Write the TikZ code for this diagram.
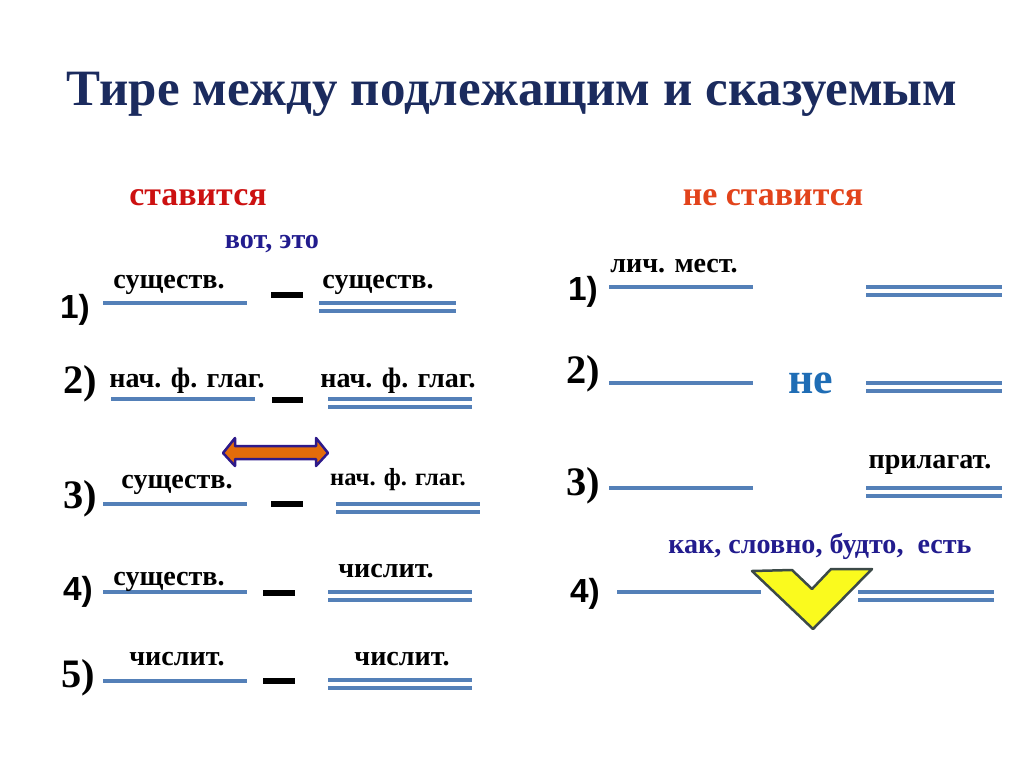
\documentclass[tikz,border=0pt]{standalone}
\usepackage{fontspec}
\setmainfont{Liberation Serif}
\setsansfont{Liberation Sans}
\usepackage{xcolor}
\definecolor{titleBlue} {HTML}{1B2B5E}
\definecolor{stavRed}   {HTML}{CC1111}
\definecolor{neRed}     {HTML}{E2431B}
\definecolor{wordNavy}  {HTML}{221C8E}
\definecolor{lineBlue}  {HTML}{5480B8}
\definecolor{neBlue}    {HTML}{1F6DB5}
\definecolor{arrOrange} {HTML}{E36C0A}
\definecolor{arrEdge}   {HTML}{2E1A8A}
\definecolor{chevYellow}{HTML}{FAFA1E}
\definecolor{chevEdge}  {HTML}{3C4A48}
\usetikzlibrary{arrows.meta, positioning, calc}
\tikzset{
    subj/.style={draw=lineBlue, line width=0.09cm},
    pred/.style={draw=lineBlue, line width=0.09cm, double=white,
                 double distance=0.07cm},
    tire/.style={draw=black, line width=0.12cm},
    lbl/.style={font=\bfseries\fontsize{16}{18}\selectfont, inner sep=0pt,
                anchor=base},
    smlbl/.style={lbl, font=\bfseries\fontsize{14}{16}\selectfont},
    numsf/.style={font=\sffamily\bfseries\fontsize{19}{21}\selectfont,
                  inner sep=0pt, anchor=base},
    numrm/.style={font=\bfseries\fontsize{23}{25}\selectfont,
                  inner sep=0pt, anchor=base},
}

\begin{document}
\begin{tikzpicture}[
    x=0.02cm, y=-0.02cm,
    head/.style={font=\bfseries\fontsize{19.3}{22}\selectfont, inner sep=0pt,
                 anchor=base},
    conj/.style={lbl, text=wordNavy, font=\bfseries\fontsize{16}{18}\selectfont},
]
\useasboundingbox (0,0) rectangle (1024,767);

% --- title ---
\node[font=\bfseries\fontsize{29}{32}\selectfont, text=titleBlue,
      inner sep=0pt, anchor=base] (title) at (512,106)
    {Тире между подлежащим и сказуемым};

% --- LEFT: ставится ---
\node[head, text=stavRed] (put) at (198,205) {ставится};
\node[conj] (vot) at (272,248) {вот, это};

% 1)
\node[numsf] (l1) at (75,318) {1)};
\draw[subj] (103,303) -- (247,303);
\node[lbl] (l1s) at (169,288) {существ.};
\draw[tire] (271,295) -- (303,295);
\draw[pred] (319,307) -- (456,307);
\node[lbl] (l1p) at (378,288) {существ.};

% 2)
\node[numrm] (l2) at (80,393) {2)};
\draw[subj] (111,399) -- (255,399);
\node[lbl] (l2s) at (187,387) {нач. ф. глаг.};
\draw[tire] (272,400) -- (303,400);
\draw[pred] (328,403) -- (472,403);
\node[lbl] (l2p) at (398,387) {нач. ф. глаг.};

% double arrow
\filldraw[fill=arrOrange, draw=arrEdge, line width=0.05cm, line join=round]
    (223,453) -- (235,438) -- (235,446) -- (316,446) -- (316,438)
    -- (328,453) -- (316,466) -- (316,459) -- (235,459) -- (235,466) -- cycle;

% 3)
\node[numrm] (l3) at (80,508) {3)};
\draw[subj] (103,504) -- (247,504);
\node[lbl] (l3s) at (177,488) {существ.};
\draw[tire] (271,504) -- (303,504);
\draw[pred] (336,508) -- (480,508);
\node[smlbl] (l3p) at (398,485) {нач. ф. глаг.};

% 4)
\node[numsf] (l4) at (78,600) {4)};
\draw[subj] (103,592) -- (247,592);
\node[lbl] (l4s) at (169,585) {существ.};
\draw[tire] (263,593) -- (295,593);
\draw[pred] (328,596) -- (472,596);
\node[lbl] (l4p) at (386,577) {числит.};

% 5)
\node[numrm] (l5) at (78,687) {5)};
\draw[subj] (103,681) -- (247,681);
\node[lbl] (l5s) at (177,665) {числит.};
\draw[tire] (263,681) -- (295,681);
\draw[pred] (328,684) -- (472,684);
\node[lbl] (l5p) at (402,665) {числит.};

% --- RIGHT: не ставится ---
\node[head, text=neRed] (noput) at (773,205) {не ставится};

% 1)
\node[numsf] (r1) at (583,300) {1)};
\draw[subj] (609,287) -- (753,287);
\node[lbl] (r1s) at (674,272) {лич. мест.};
\draw[pred] (866,291) -- (1002,291);

% 2)
\node[numrm] (r2) at (583,383) {2)};
\draw[subj] (609,383) -- (753,383);
\node[font=\bfseries\fontsize{25}{28}\selectfont, text=neBlue,
      inner sep=0pt, anchor=base] (ne) at (811,393) {не};
\draw[pred] (866,387) -- (1002,387);

% 3)
\node[numrm] (r3) at (583,495) {3)};
\draw[subj] (609,488) -- (753,488);
\draw[pred] (866,492) -- (1002,492);
\node[lbl] (r3p) at (930,468) {прилагат.};

% 4)
\node[conj] (kak) at (820,553) {как, словно, будто,\ \ есть};
\node[numsf] (r4) at (585,602) {4)};
\draw[subj] (617,592) -- (761,592);
\draw[pred] (858,596) -- (994,596);
\filldraw[fill=chevYellow, draw=chevEdge, line width=0.05cm, line join=round]
    (752,571) -- (792,570) -- (812,589) -- (831,569) -- (872,569)
    -- (813,629) -- cycle;
\end{tikzpicture}
\end{document}
